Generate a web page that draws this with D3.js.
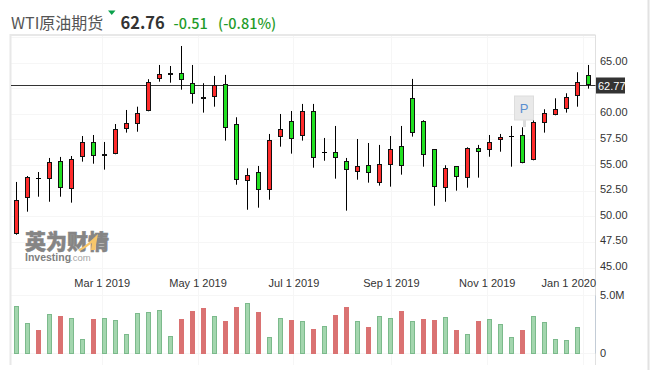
<!DOCTYPE html>
<html lang="zh">
<head>
<meta charset="utf-8">
<title>WTI原油期货</title>
<script src="https://d3js.org/d3.v7.min.js"></script>
<style>
  html, body { margin: 0; padding: 0; background: #fff; overflow: hidden; }
  svg { display: block; }
  text { font-family: "Liberation Sans", Arial, sans-serif; }
  .head, .head text { font-family: "Noto Sans CJK SC", "Noto Sans", sans-serif; }
  .axis text { font-size: 11px; fill: #333; }
  .axis path { display: none; }
</style>
</head>
<body>
<svg width="651" height="370"></svg>
<script>
const firstWeek = new Date(Date.UTC(2019, 0, 6));
const opens = [48.30,51.76,53.68,53.61,55.37,52.63,55.76,57.22,55.85,56.05,58.49,58.98,60.24,63.37,63.76,63.95,62.98,61.41,61.61,62.88,58.98,53.41,54.29,52.54,57.71,59.27,57.80,60.24,56.24,56.24,55.37,54.29,54.98,53.22,54.98,56.83,61.51,59.27,56.54,52.73,54.88,53.71,56.63,56.44,57.41,57.81,57.90,55.46,59.07,59.85,60.44,61.71,63.76];
const highs = [53.35,53.93,54.32,55.69,55.79,55.88,57.83,57.93,57.25,59.00,60.37,60.69,63.37,64.76,64.66,66.61,64.76,62.98,63.69,63.79,59.66,54.68,54.91,58.03,59.98,60.27,60.96,60.96,57.64,58.81,55.69,57.54,57.15,56.96,57.83,58.81,63.40,59.37,56.54,54.98,54.88,56.73,56.96,57.93,58.03,58.81,58.68,59.88,60.44,61.51,62.00,64.05,64.76];
const lows = [48.20,50.45,51.91,51.42,51.91,51.33,55.33,55.13,54.55,56.05,58.16,58.25,60.24,63.13,63.03,62.35,60.99,60.11,60.69,57.38,53.08,50.64,50.84,51.62,56.79,56.11,57.38,54.74,55.42,53.67,50.55,53.57,53.28,52.99,52.89,54.06,57.77,54.84,51.03,51.42,52.50,52.79,53.77,55.81,56.30,54.84,55.17,55.46,58.16,59.85,60.11,60.69,62.45];
const closes = [51.56,53.80,53.71,55.27,52.73,55.56,57.22,55.85,56.05,58.49,59.07,60.11,63.07,63.85,63.95,63.27,61.90,61.61,62.78,58.59,53.51,54.00,52.54,57.41,58.49,57.51,60.24,55.66,56.22,55.66,54.49,54.88,54.20,55.07,56.54,54.88,58.10,55.95,52.83,54.68,53.80,56.63,56.24,57.22,57.71,57.83,55.17,59.17,60.05,60.44,61.67,63.07,62.78];
// volume in millions, last week has no bar
const volumes = [4.10,2.63,2.02,3.41,3.24,3.06,1.24,2.98,3.06,2.89,1.68,3.50,3.58,3.76,1.50,2.98,3.67,3.93,3.24,2.80,4.02,4.36,3.58,1.42,3.06,2.89,2.80,2.11,2.37,3.32,4.02,2.80,2.28,3.24,3.06,3.67,2.80,2.98,2.89,3.15,2.02,1.68,2.80,2.98,2.54,1.42,2.02,3.24,2.72,1.24,1.16,2.28];
const volumeUp = [0,0,1,0,1,0,0,1,0,0,0,0,0,0,0,1,1,1,0,1,1,0,1,0,0,1,0,1,0,1,1,0,1,0,0,1,0,1,1,0,1,0,1,0,0,0,1,0,0,0,0,0];
const gridPrices = [45,47.5,50,52.5,55,57.5,60,62.5,65,67.5];
const priceLabels = [45,47.5,50,52.5,55,57.5,60,65];
const dateTicks = ['2019-03-01','2019-05-01','2019-07-01','2019-09-01','2019-11-01','2020-01-01'];
const volumeTicks = [0,5];
const lastPrice = 62.77;

const weeks = d3.utcWeek.range(firstWeek, d3.utcDay.offset(firstWeek, 7 * opens.length));
const tickDates = dateTicks.map(d => new Date(d + 'T00:00:00Z'));

const svg = d3.select('svg');
const plotLeft = 11, plotRight = 595.5, plotTop = 35, plotBottom = 365;

const x = d3.scaleUtc()
  .domain([new Date(Date.UTC(2019, 2, 1)), new Date(Date.UTC(2020, 0, 1))])
  .range([101.7, 582.6]);
const y = d3.scaleLinear().domain([50, 65]).range([216.3, 62.5]);
const yVol = d3.scaleLinear().domain([0, 5]).range([353.5, 295.5]);

// header
const head = svg.append('g').attr('class', 'head');
head.append('text').attr('x', 11).attr('y', 29).attr('font-size', 16).attr('fill', '#555').text('WTI原油期货');
head.append('path').attr('d', 'M108,10.5h7.5l-3.75,4.5z').attr('fill', '#0aa14b');
head.append('text').attr('x', 120.5).attr('y', 29).attr('font-size', 16.5).attr('font-weight', 700).attr('fill', '#333').text('62.76');
head.append('text').attr('x', 173.5).attr('y', 29).attr('font-size', 14.5).attr('font-weight', 500).attr('fill', '#1f9c2a').text('-0.51');
head.append('text').attr('x', 218).attr('y', 29).attr('font-size', 14.5).attr('font-weight', 500).attr('fill', '#1f9c2a').text('(-0.81%)');

// grid
const grid = svg.append('g').attr('stroke', '#f6f6f6').attr('fill', 'none');
grid.selectAll('.h').data(gridPrices).join('line').attr('class', 'h')
  .attr('x1', plotLeft).attr('x2', plotRight)
  .attr('y1', d => Math.round(y(d)) + 0.5).attr('y2', d => Math.round(y(d)) + 0.5);
grid.selectAll('.v').data(tickDates).join('line').attr('class', 'v')
  .attr('x1', d => Math.round(x(d)) + 0.5).attr('x2', d => Math.round(x(d)) + 0.5)
  .attr('y1', plotTop).attr('y2', plotBottom);
grid.selectAll('.hv').data(volumeTicks).join('line').attr('class', 'hv')
  .attr('x1', plotLeft).attr('x2', plotRight)
  .attr('y1', d => yVol(d)).attr('y2', d => yVol(d));

// frame
const frame = svg.append('g').attr('fill', 'none');
frame.append('path').attr('d', `M${plotLeft - 0.5},${plotBottom}V${plotTop}H${plotRight}`).attr('stroke', '#e8e8e8').attr('stroke-width', 2);
frame.append('line').attr('x1', plotRight).attr('x2', plotRight).attr('y1', plotTop).attr('y2', plotBottom).attr('stroke', '#e0e0e0').attr('stroke-width', 1);
frame.append('line').attr('x1', plotRight).attr('x2', plotRight).attr('y1', yVol(5)).attr('y2', yVol(0)).attr('stroke', '#c3ccd6').attr('stroke-width', 1);
frame.append('line').attr('x1', 648.5).attr('x2', 648.5).attr('y1', 0).attr('y2', 370).attr('stroke', '#e2e2e2').attr('stroke-width', 2);

// watermark
const mark = svg.append('g');
mark.append('text').attr('class', 'head').attr('x', 25).attr('y', 248.5).attr('font-size', 21).attr('font-weight', 900).attr('fill', '#858585').attr('stroke', '#858585').attr('stroke-width', 0.5).text('英为财情');
mark.append('path').attr('d', 'M78,250C85,246 92,240 98,234L95,250L91,250L92,243C88,246 84,249 80,251z').attr('fill', '#f6c66b');
mark.append('text').attr('x', 25).attr('y', 261).attr('font-size', 10.5).attr('font-weight', 700).attr('fill', '#808080').text('Investing');
mark.append('text').attr('x', 70).attr('y', 261).attr('font-size', 9.5).attr('fill', '#a5a5a5').text('.com');

// volume bars
svg.append('g').selectAll('rect').data(volumes).join('rect')
  .attr('x', (d, i) => Math.floor(x(weeks[i])) - 1.5)
  .attr('width', 4)
  .attr('y', d => Math.round(yVol(d)) + 0.5)
  .attr('height', d => yVol(0) - Math.round(yVol(d)) - 0.5)
  .attr('fill', (d, i) => volumeUp[i] ? '#da7272' : '#a3d6ae')
  .attr('stroke', (d, i) => volumeUp[i] ? '#da7272' : '#7cba8c');

// last price line
svg.append('line').attr('x1', plotLeft).attr('x2', plotRight)
  .attr('y1', Math.round(y(lastPrice)) + 0.5).attr('y2', Math.round(y(lastPrice)) + 0.5)
  .attr('stroke', '#333');

// candles
const candles = svg.append('g').selectAll('g').data(opens).join('g')
  .attr('transform', (d, i) => `translate(${Math.floor(x(weeks[i])) + 0.5},0)`);
candles.append('line')
  .attr('y1', (d, i) => y(highs[i])).attr('y2', (d, i) => y(lows[i]))
  .attr('stroke', '#000');
candles.each(function (d, i) {
  const g = d3.select(this);
  const yTop = Math.round(y(Math.max(opens[i], closes[i]))) + 0.5;
  const yBot = Math.round(y(Math.min(opens[i], closes[i]))) - 0.5;
  if (yBot <= yTop) {
    g.append('line').attr('x1', -2.5).attr('x2', 2.5)
      .attr('y1', yTop).attr('y2', yTop).attr('stroke', '#000');
  } else {
    g.append('rect').attr('x', -2).attr('width', 4)
      .attr('y', yTop).attr('height', yBot - yTop)
      .attr('fill', closes[i] >= opens[i] ? '#ff2b2b' : '#21e021')
      .attr('stroke', '#111');
  }
});

// axes
const fmtDate = d3.utcFormat('%b %-d %Y');
const xAxis = svg.append('g').attr('class', 'axis').attr('transform', 'translate(0,276)')
  .call(d3.axisBottom(x).tickValues(tickDates).tickFormat(fmtDate).tickSize(0));
xAxis.selectAll('.tick').filter((d, i) => i === tickDates.length - 1).select('text')
  .attr('text-anchor', 'end').attr('x', plotRight - x(tickDates[5]));

svg.append('g').attr('class', 'axis').attr('transform', 'translate(600,-1.5)')
  .call(d3.axisRight(y).tickValues(priceLabels).tickFormat(d3.format('.2f')).tickSize(0).tickPadding(0));

svg.append('g').attr('class', 'axis').attr('transform', 'translate(600,-1)')
  .call(d3.axisRight(yVol).tickValues(volumeTicks).tickFormat(d => d ? d.toFixed(1) + 'M' : '0').tickSize(0).tickPadding(0));

// last price tag
svg.append('rect').attr('x', 596).attr('y', 77.5).attr('width', 29).attr('height', 16).attr('fill', '#333');
svg.append('text').attr('x', 598).attr('y', Math.round(y(lastPrice)) + 4.5).attr('font-size', 11).attr('fill', '#fff').text(lastPrice.toFixed(2));

// P flag on the chart
const flag = svg.append('g');
flag.append('rect').attr('x', 523).attr('y', 118).attr('width', 3).attr('height', 9).attr('fill', '#dcdcdc');
flag.append('rect').attr('x', 514.5).attr('y', 96).attr('width', 19).attr('height', 24).attr('fill', '#e9e9e9').attr('stroke', '#dddddd');
flag.append('text').attr('x', 524).attr('y', 113).attr('text-anchor', 'middle').attr('font-size', 13).attr('fill', '#5a8fd0').text('P');
</script>
</body>
</html>
